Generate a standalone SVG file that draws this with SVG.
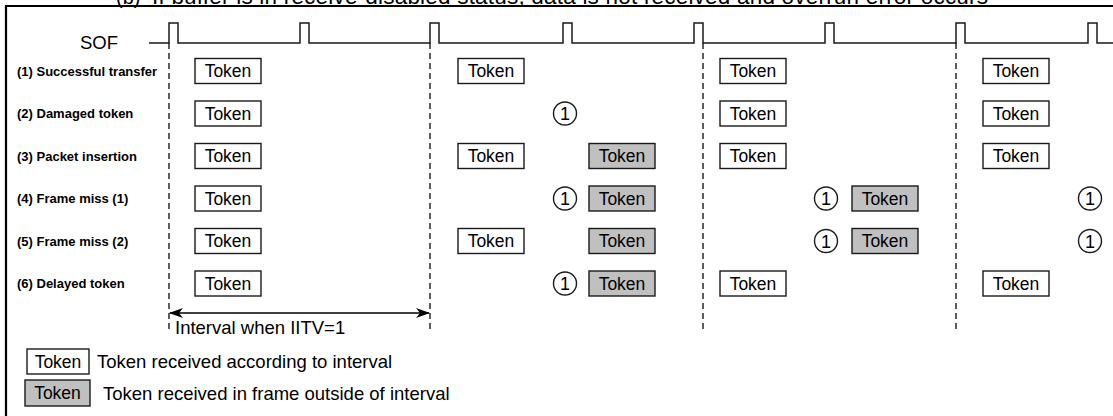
<svg xmlns="http://www.w3.org/2000/svg" width="1113" height="416" viewBox="0 0 1113 416">
<defs>
<style>
.t{font-family:"Liberation Sans",Arial,sans-serif;fill:#000}
.lbl{font-family:"Liberation Sans",Arial,sans-serif;font-weight:bold;font-size:13px;fill:#000}
.tok{fill:#fff;stroke:#1a1a1a;stroke-width:1.4}
.tokg{fill:#c0c0c0;stroke:#1a1a1a;stroke-width:1.4}
.tt{font-family:"Liberation Sans",Arial,sans-serif;font-size:17.5px;text-anchor:middle;fill:#000}
.cir{fill:#fff;stroke:#1a1a1a;stroke-width:1.4}
.ct{font-family:"Liberation Sans",Arial,sans-serif;font-size:18px;text-anchor:middle;fill:#000}
.dash{stroke:#1a1a1a;stroke-width:1.4;stroke-dasharray:6,4;fill:none}
.frame{stroke:#000;stroke-width:2.2;fill:none}
.wave{stroke:#1a1a1a;stroke-width:1.5;fill:none}
</style>
<marker id="ah" viewBox="0 0 14 10" refX="13" refY="5" markerWidth="14" markerHeight="10" markerUnits="userSpaceOnUse" orient="auto-start-reverse">
<path d="M0,0 L14,5 L0,10 L4,5 Z" fill="#000"/>
</marker>
</defs>
<rect width="1113" height="416" fill="#fff"/>
<text class="t" x="116" y="4" font-size="20">(b)</text>
<text class="t" x="152" y="4" font-size="22.5" textLength="836">If buffer is in receive-disabled status, data is not received and overrun error occurs</text>
<g id="frame">
<path class="frame" d="M1113,6 H6 V416"/>
</g>
<g id="sof">
<text class="t" x="80" y="49" font-size="18.5">SOF</text>
<path class="wave" d="M149,43 H169 V23 H178 V43 H300 V23 H309 V43 H430 V23 H439 V43 H563 V23 H572 V43 H694 V23 H703 V43 H825 V23 H834 V43 H956 V23 H965 V43 H1088 V23 H1097 V43 H1113"/>
</g>
<g id="connectors">
<line class="dash" x1="169" y1="43" x2="169" y2="332"/>
<line class="dash" x1="430" y1="43" x2="430" y2="332"/>
<line class="dash" x1="703" y1="43" x2="703" y2="330"/>
<line class="dash" x1="956" y1="43" x2="956" y2="330"/>
<line x1="170" y1="313" x2="429" y2="313" stroke="#000" stroke-width="1.5" marker-start="url(#ah)" marker-end="url(#ah)"/>
</g>
<g id="labels">
<text class="lbl" x="17" y="75.5">(1) Successful transfer</text>
<text class="lbl" x="17" y="118">(2) Damaged token</text>
<text class="lbl" x="17" y="160.5">(3) Packet insertion</text>
<text class="lbl" x="17" y="203">(4) Frame miss (1)</text>
<text class="lbl" x="17" y="245.5">(5) Frame miss (2)</text>
<text class="lbl" x="17" y="288">(6) Delayed token</text>
</g>
<g id="row1">
<rect class="tok" x="195" y="58.5" width="66" height="25"/><text class="tt" x="228" y="77">Token</text>
<rect class="tok" x="458" y="58.5" width="66" height="25"/><text class="tt" x="491" y="77">Token</text>
<rect class="tok" x="720" y="58.5" width="66" height="25"/><text class="tt" x="753" y="77">Token</text>
<rect class="tok" x="983" y="58.5" width="66" height="25"/><text class="tt" x="1016" y="77">Token</text>
</g>
<g id="row2">
<rect class="tok" x="195" y="101" width="66" height="25"/><text class="tt" x="228" y="119.5">Token</text>
<circle class="cir" cx="565" cy="113.5" r="11.5"/><text class="ct" x="565" y="120">1</text>
<rect class="tok" x="720" y="101" width="66" height="25"/><text class="tt" x="753" y="119.5">Token</text>
<rect class="tok" x="983" y="101" width="66" height="25"/><text class="tt" x="1016" y="119.5">Token</text>
</g>
<g id="row3">
<rect class="tok" x="195" y="143.5" width="66" height="25"/><text class="tt" x="228" y="162">Token</text>
<rect class="tok" x="458" y="143.5" width="66" height="25"/><text class="tt" x="491" y="162">Token</text>
<rect class="tokg" x="589" y="143.5" width="66" height="25"/><text class="tt" x="622" y="162">Token</text>
<rect class="tok" x="720" y="143.5" width="66" height="25"/><text class="tt" x="753" y="162">Token</text>
<rect class="tok" x="983" y="143.5" width="66" height="25"/><text class="tt" x="1016" y="162">Token</text>
</g>
<g id="row4">
<rect class="tok" x="195" y="186" width="66" height="25"/><text class="tt" x="228" y="204.5">Token</text>
<circle class="cir" cx="565" cy="198.5" r="11.5"/><text class="ct" x="565" y="205">1</text>
<rect class="tokg" x="589" y="186" width="66" height="25"/><text class="tt" x="622" y="204.5">Token</text>
<circle class="cir" cx="826" cy="198.5" r="11.5"/><text class="ct" x="826" y="205">1</text>
<rect class="tokg" x="852" y="186" width="66" height="25"/><text class="tt" x="885" y="204.5">Token</text>
<circle class="cir" cx="1090" cy="198.5" r="11.5"/><text class="ct" x="1090" y="205">1</text>
</g>
<g id="row5">
<rect class="tok" x="195" y="228.5" width="66" height="25"/><text class="tt" x="228" y="247">Token</text>
<rect class="tok" x="458" y="228.5" width="66" height="25"/><text class="tt" x="491" y="247">Token</text>
<rect class="tokg" x="589" y="228.5" width="66" height="25"/><text class="tt" x="622" y="247">Token</text>
<circle class="cir" cx="826" cy="241" r="11.5"/><text class="ct" x="826" y="247.5">1</text>
<rect class="tokg" x="852" y="228.5" width="66" height="25"/><text class="tt" x="885" y="247">Token</text>
<circle class="cir" cx="1090" cy="241" r="11.5"/><text class="ct" x="1090" y="247.5">1</text>
</g>
<g id="row6">
<rect class="tok" x="195" y="271" width="66" height="25"/><text class="tt" x="228" y="289.5">Token</text>
<circle class="cir" cx="565" cy="283.5" r="11.5"/><text class="ct" x="565" y="290">1</text>
<rect class="tokg" x="589" y="271" width="66" height="25"/><text class="tt" x="622" y="289.5">Token</text>
<rect class="tok" x="720" y="271" width="66" height="25"/><text class="tt" x="753" y="289.5">Token</text>
<rect class="tok" x="983" y="271" width="66" height="25"/><text class="tt" x="1016" y="289.5">Token</text>
</g>
<g id="interval-label">
<text class="t" x="175" y="334" font-size="18.5">Interval when IITV=1</text>
</g>
<g id="legend">
<rect class="tok" x="27" y="349" width="62" height="25"/><text class="tt" x="58" y="367.5">Token</text>
<text class="t" x="97" y="368" font-size="18.5">Token received according to interval</text>
<rect class="tokg" x="25" y="380" width="65" height="26"/><text class="tt" x="57.5" y="399">Token</text>
<text class="t" x="103" y="400" font-size="18.5">Token received in frame outside of interval</text>
</g>
</svg>
